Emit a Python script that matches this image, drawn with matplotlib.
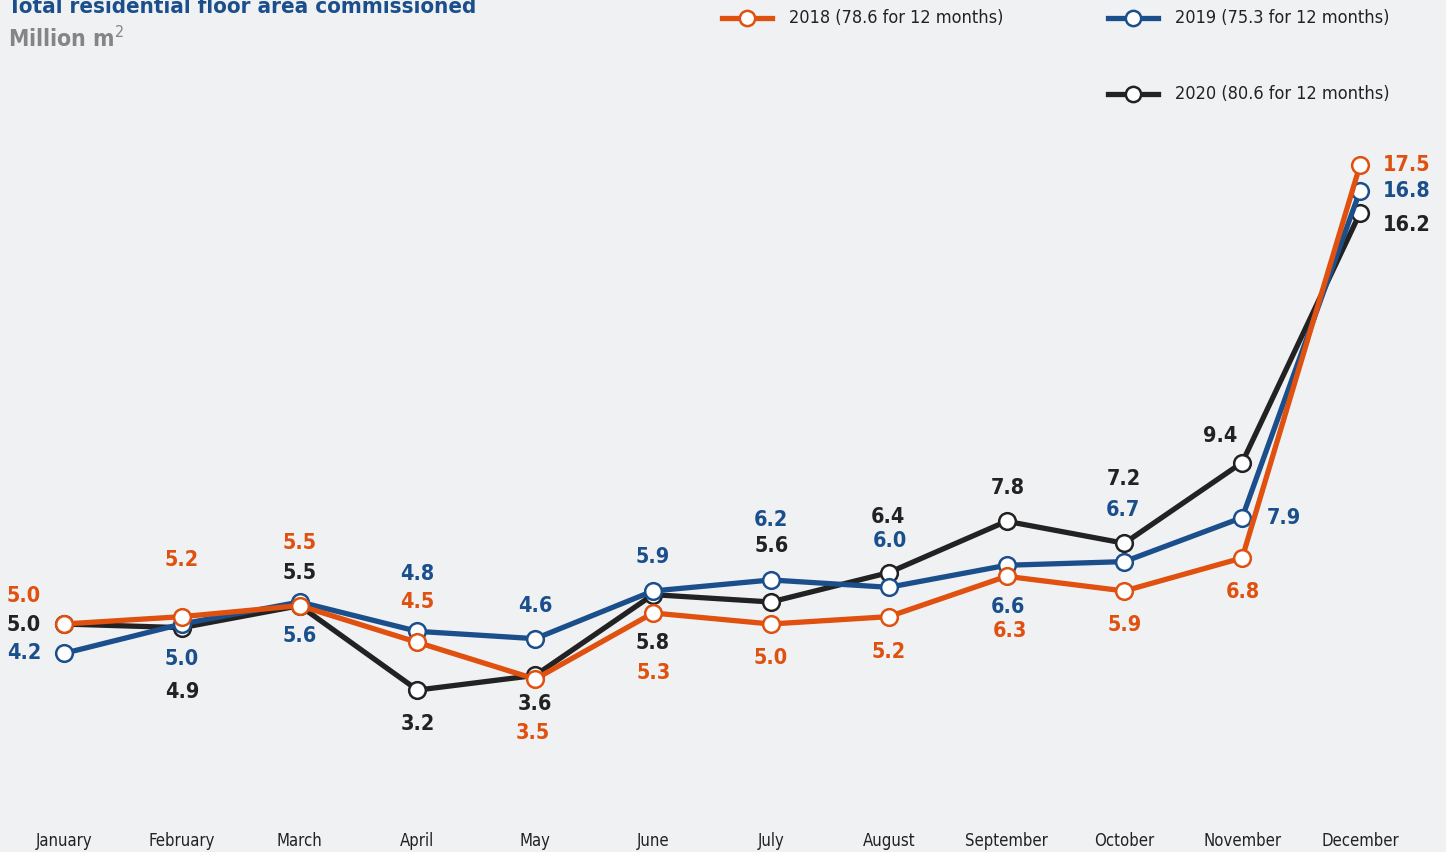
import matplotlib
matplotlib.use("Agg")
import matplotlib.pyplot as plt
from matplotlib.lines import Line2D

plt.rcParams['font.family'] = ['DejaVu Sans']
plt.rcParams['font.stretch'] = 'condensed'

months = ["January", "February", "March", "April", "May", "June", "July",
          "August", "September", "October", "November", "December"]
y2018 = [5.0, 5.2, 5.5, 4.5, 3.5, 5.3, 5.0, 5.2, 6.3, 5.9, 6.8, 17.5]
y2019 = [4.2, 5.0, 5.6, 4.8, 4.6, 5.9, 6.2, 6.0, 6.6, 6.7, 7.9, 16.8]
y2020 = [5.0, 4.9, 5.5, 3.2, 3.6, 5.8, 5.6, 6.4, 7.8, 7.2, 9.4, 16.2]
legend_labels = ["2018 (78.6 for 12 months)", "2019 (75.3 for 12 months)",
                 "2020 (80.6 for 12 months)"]

C18 = "#E0500F"
C19 = "#1B4F8C"
C20 = "#222222"
BG = "#F0F1F3"

# label offsets in pixels (dx, dy; dy positive = down)
off2018 = [(-40, -28), (0, -57), (0, -63), (0, -40), (-2, 54), (1, 60),
           (0, 34), (0, 35), (3, 55), (0, 34), (1, 34), (47, 0)]
off2019 = [(-40, 0), (0, 35), (0, 34), (0, -57), (0, -33), (0, -34),
           (0, -60), (1, -46), (1, 42), (-1, -52), (42, 0), (47, 0)]
off2020 = [(-40, 1), (0, 64), (0, -33), (0, 34), (0, 29), (0, 48),
           (1, -56), (-1, -56), (1, -33), (-1, -64), (-22, -27), (47, 12)]

W, H = 1446, 852
fig = plt.figure(figsize=(W / 100, H / 100), dpi=100)
fig.patch.set_facecolor(BG)

x0_px, dx_px = 64, 117.8
y_zero_px, py = 807.5, 36.7
ax_bottom_px = 818
ax = fig.add_axes([0, (H - ax_bottom_px) / H, 1, ax_bottom_px / H])
ax.set_facecolor(BG)
ax.set_xlim(-x0_px / dx_px, 11 + (W - 1360) / dx_px)
ax.set_ylim(-(ax_bottom_px - y_zero_px) / py, y_zero_px / py)
for s in ax.spines.values():
    s.set_visible(False)
ax.set_yticks([])
xs = list(range(12))
ax.set_xticks(xs)
ax.set_xticklabels(months, fontsize=12, color="#222222")
ax.tick_params(axis='x', length=0, pad=10)

series = [(y2020, C20, off2020, 3), (y2019, C19, off2019, 4),
          (y2018, C18, off2018, 5)]
for vals, col, offs, z in series:
    ax.plot(xs, vals, color=col, lw=3.8, zorder=z, solid_capstyle='round',
            marker='o', ms=12, mfc='white', mec=col, mew=1.8)
    for xi, (v, (ox, oy)) in enumerate(zip(vals, offs)):
        ax.annotate(f"{v:.1f}", (xi, v), xytext=(ox * 0.72, -oy * 0.72),
                    textcoords='offset points', ha='center', va='center',
                    fontsize=15.5, fontweight='bold', color=col, zorder=10)

# titles
fig.text(8 / W, 1 - 13 / H, "Total residential floor area commissioned",
         fontsize=16, fontweight='bold', color="#1B4F8C", ha='left', va='baseline')
fig.text(8 / W, 1 - 47 / H, "Million m$^{\\mathsf{2}}$", fontsize=16.5,
         fontweight='bold', color="#858585", ha='left', va='baseline')

# legend (manual)
leg_pos = [(722, 18), (1108, 18), (1108, 94)]
for (lx, ly), col, lab in zip(leg_pos, [C18, C19, C20], legend_labels):
    fy = 1 - ly / H
    fig.add_artist(Line2D([lx / W, (lx + 50) / W], [fy, fy], color=col, lw=3.8,
                          transform=fig.transFigure))
    fig.add_artist(Line2D([(lx + 25) / W], [fy], marker='o', ms=11, mfc='white',
                          mec=col, mew=1.8, transform=fig.transFigure))
    fig.text((lx + 67) / W, fy, lab, fontsize=13, color="#222222",
             ha='left', va='center')

fig.savefig("out.png", dpi=100, facecolor=BG)
